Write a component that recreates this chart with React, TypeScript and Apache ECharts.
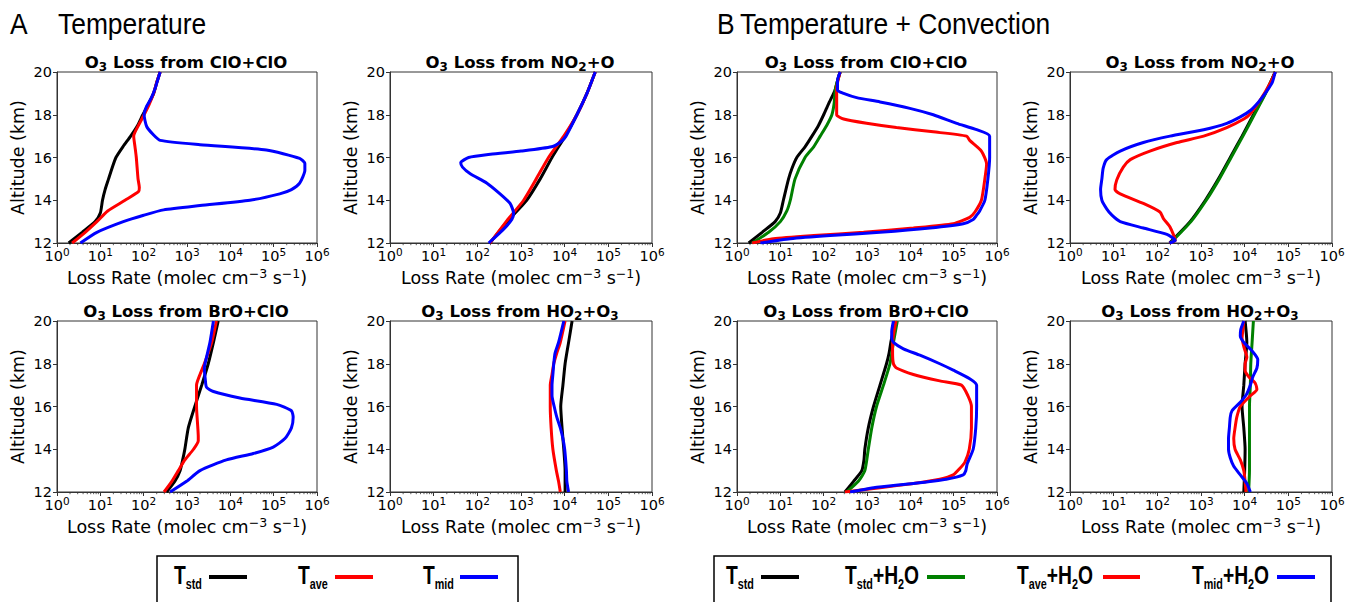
import React, { useEffect, useRef } from "react";
import * as echarts from "echarts";

// ---------- axis values ----------
const ALT_MIN = 12;
const ALT_MAX = 20;
const ALT_STEP = 2;
const RATE_MIN = 1;
const RATE_MAX = 1e6;
const DECADES = [0, 1, 2, 3, 4, 5];
const MINOR_MULTS = [2, 3, 4, 5, 6, 7, 8, 9];

// ---------- data: [log10(loss rate), altitude km] ----------
// A: Temperature — ClO+ClO
const cloA_std = [[0.27,12],[0.58,12.5],[0.88,13],[1.0,13.4],[1.05,14],[1.11,14.5],[1.19,15],[1.27,15.5],[1.36,16],[1.52,16.5],[1.70,17],[1.86,17.5],[1.98,18],[2.11,18.5],[2.23,19],[2.30,19.5],[2.38,20]];
const cloA_ave = [[0.35,12],[0.65,12.5],[0.92,13],[1.17,13.5],[1.57,14],[1.88,14.4],[1.90,14.6],[1.87,15],[1.83,16],[1.80,16.5],[1.77,17],[1.88,17.5],[2.01,18],[2.13,18.5],[2.23,19],[2.30,19.5],[2.38,20]];
const cloA_mid = [[0.54,12],[0.92,12.5],[1.53,13],[2.0,13.3],[2.46,13.55],[3.3,13.75],[4.45,14.0],[5.14,14.3],[5.41,14.5],[5.6,14.8],[5.72,15.4],[5.72,15.72],[5.6,15.96],[4.83,16.35],[3.3,16.6],[2.38,16.8],[2.23,17.05],[2.07,17.45],[2.01,18.0],[2.07,18.4],[2.18,18.8],[2.26,19.2],[2.32,19.6],[2.38,20]];
// A: Temperature — NO2+O
const no2A_std = [[2.29,12],[2.68,13],[3.13,14],[3.44,15],[3.71,16],[4.01,17],[4.28,18],[4.51,19],[4.70,20]];
const no2A_ave = [[2.29,12],[2.66,13],[3.06,14],[3.35,15],[3.63,16],[3.98,17],[4.28,18],[4.51,19],[4.70,20]];
const no2A_mid = [[2.26,12],[2.58,12.6],[2.79,13.1],[2.83,13.4],[2.75,13.85],[2.52,14.3],[2.22,14.8],[1.83,15.25],[1.66,15.55],[1.62,15.75],[1.80,16.0],[2.30,16.15],[3.0,16.3],[3.70,16.5],[3.92,16.75],[4.03,17.0],[4.28,18],[4.51,19],[4.70,20]];
// A: Temperature — BrO+ClO
const broA_std = [[2.53,12],[2.72,12.5],[2.84,13],[2.90,13.5],[2.95,14],[3.03,15],[3.18,16],[3.34,17],[3.49,18],[3.61,19],[3.72,20]];
const broA_ave = [[2.47,12],[2.65,12.5],[2.80,13],[2.95,13.5],[3.15,14],[3.26,14.4],[3.26,14.6],[3.25,15],[3.22,16],[3.22,17],[3.30,17.5],[3.40,18],[3.57,19],[3.68,20]];
const broA_mid = [[2.61,12],[2.99,12.5],[3.30,13],[3.91,13.5],[4.53,13.8],[4.99,14.1],[5.26,14.5],[5.41,15],[5.45,15.5],[5.41,15.8],[5.07,16.1],[4.22,16.4],[3.61,16.7],[3.45,16.9],[3.42,17.3],[3.40,17.8],[3.45,18.3],[3.53,19],[3.61,20]];
// A: Temperature — HO2+O3
const ho2A_std = [[4.01,12],[4.01,13],[3.98,14],[3.94,15],[3.91,16],[3.96,17],[4.01,18],[4.09,19],[4.17,20]];
const ho2A_ave = [[3.90,12],[3.86,12.5],[3.81,13],[3.73,14],[3.69,15],[3.67,16],[3.67,17],[3.71,17.5],[3.75,18],[3.82,18.5],[3.90,19],[4.01,20]];
const ho2A_mid = [[4.09,12],[4.05,12.5],[4.04,13],[4.00,14],[3.96,14.5],[3.90,15],[3.82,15.5],[3.76,16],[3.71,16.5],[3.71,17],[3.73,17.5],[3.75,18],[3.78,18.5],[3.86,19],[3.98,20]];

// B: Temperature + Convection — ClO+ClO
const cloB_std = [[0.27,12],[0.58,12.5],[0.88,13],[1.0,13.4],[1.07,14],[1.19,15],[1.27,15.5],[1.38,16],[1.57,16.5],[1.73,17],[1.88,17.5],[2.0,18],[2.11,18.5],[2.23,19],[2.27,19.2],[2.32,19.6],[2.38,20]];
const cloB_stdH2O = [[0.35,12],[0.73,12.5],[1.0,13],[1.15,13.5],[1.23,14],[1.34,15],[1.57,16],[1.77,16.5],[1.92,17],[2.07,17.5],[2.19,18],[2.24,18.5],[2.26,19],[2.27,19.2],[2.32,19.6],[2.38,20]];
const cloB_aveH2O = [[0.35,12],[0.84,12.2],[1.77,12.35],[2.92,12.5],[4.07,12.7],[4.99,12.9],[5.37,13.2],[5.49,13.45],[5.64,14],[5.72,15],[5.76,15.7],[5.64,16.3],[5.37,16.8],[5.30,17.0],[4.53,17.2],[3.68,17.4],[2.99,17.6],[2.46,17.8],[2.30,18.0],[2.30,19.2],[2.33,19.6],[2.38,20]];
const cloB_midH2O = [[0.54,12],[1.23,12.2],[2.15,12.35],[3.30,12.5],[4.45,12.7],[5.22,12.9],[5.45,13.1],[5.53,13.3],[5.60,13.5],[5.72,14],[5.79,15],[5.83,16],[5.83,17],[5.53,17.3],[5.07,17.6],[4.53,18.0],[3.99,18.3],[3.30,18.6],[2.76,18.8],[2.46,19.0],[2.32,19.15],[2.32,19.6],[2.38,20]];
// B — NO2+O
const no2B_std = [[2.28,12],[2.75,13],[3.10,14],[3.40,15],[3.67,16],[3.94,17],[4.20,18],[4.47,19],[4.70,20]];
const no2B_stdH2O = [[2.30,12],[2.77,13],[3.12,14],[3.42,15],[3.69,16],[3.96,17],[4.22,18],[4.48,19],[4.70,20]];
const no2B_aveH2O = [[2.28,12],[2.41,12.12],[2.29,12.75],[2.14,13.14],[2.06,13.45],[1.68,13.85],[1.15,14.3],[1.03,14.5],[1.07,14.95],[1.22,15.55],[1.38,15.9],[1.83,16.3],[2.45,16.7],[3.06,17.0],[3.59,17.4],[3.98,17.8],[4.13,18.05],[4.36,18.7],[4.59,19.5],[4.70,20]];
const no2B_midH2O = [[2.28,12],[2.41,12.12],[2.22,12.4],[1.68,12.7],[1.15,13.0],[0.96,13.3],[0.84,13.6],[0.73,14],[0.70,14.5],[0.73,15],[0.76,15.5],[0.84,15.9],[1.15,16.3],[1.68,16.7],[2.29,17.0],[3.06,17.3],[3.59,17.6],[3.90,17.9],[4.13,18.2],[4.32,18.6],[4.47,19.0],[4.63,19.5],[4.70,20]];
// B — BrO+ClO
const broB_std = [[2.49,12],[2.69,12.5],[2.88,13],[2.93,13.5],[2.95,14],[3.03,15],[3.15,16],[3.30,17],[3.45,18],[3.51,18.5],[3.55,19],[3.57,19.2],[3.65,20]];
const broB_stdH2O = [[2.53,12],[2.80,12.5],[2.95,13],[3.03,14],[3.11,15],[3.22,16],[3.38,17],[3.53,18],[3.61,19],[3.70,20]];
const broB_aveH2O = [[2.49,12],[3.30,12.2],[4.07,12.4],[4.68,12.6],[4.99,12.8],[5.14,13.1],[5.26,13.4],[5.36,14],[5.41,15],[5.41,16],[5.33,16.5],[5.18,17.0],[4.68,17.2],[4.07,17.5],[3.68,17.8],[3.61,18.0],[3.59,18.5],[3.59,19.0],[3.67,20]];
const broB_midH2O = [[2.61,12],[3.15,12.2],[4.07,12.4],[4.83,12.6],[5.22,12.8],[5.28,13.0],[5.31,13.3],[5.45,14],[5.51,15],[5.53,16],[5.53,17],[5.37,17.3],[4.99,17.7],[4.68,18.0],[4.22,18.4],[3.84,18.7],[3.61,19.0],[3.57,19.2],[3.57,19.5],[3.61,20]];
// B — HO2+O3
const ho2B_std = [[3.98,12],[4.00,13],[4.01,14],[3.98,15],[3.94,16],[3.98,17],[4.01,18],[4.05,19],[4.01,20]];
const ho2B_stdH2O = [[4.09,12],[4.11,13],[4.11,14],[4.11,15],[4.11,16],[4.13,17],[4.14,18],[4.17,19],[4.20,20]];
const ho2B_aveH2O = [[4.03,12],[4.01,12.5],[3.98,13],[3.90,13.5],[3.78,14],[3.75,14.5],[3.78,15],[3.82,15.5],[3.90,16],[4.13,16.5],[4.28,16.8],[4.24,17.1],[4.09,17.4],[4.01,17.7],[4.01,18.0],[4.05,18.3],[3.98,18.8],[3.94,19.2],[3.96,19.6],[3.98,20]];
const ho2B_midH2O = [[4.13,12],[4.05,12.4],[3.90,12.8],[3.75,13.2],[3.67,13.6],[3.63,14],[3.63,14.5],[3.65,15],[3.67,15.5],[3.71,15.8],[3.90,16.2],[4.05,16.6],[4.13,17.0],[4.19,17.4],[4.28,17.8],[4.30,18.2],[4.17,18.6],[3.98,19.0],[3.90,19.3],[3.91,19.6],[3.98,20]];

// ---------- labels ----------
const TITLE_CLO = "{b|O}{s|3}{b| Loss from ClO+ClO}";
const TITLE_NO2 = "{b|O}{s|3}{b| Loss from NO}{s|2}{b|+O}";
const TITLE_BRO = "{b|O}{s|3}{b| Loss from BrO+ClO}";
const TITLE_HO2 = "{b|O}{s|3}{b| Loss from HO}{s|2}{b|+O}{s|3}";
const X_NAME = "{n|Loss Rate (molec cm}{s|−3}{n| s}{s|−1}{n|)}";
const Y_NAME = "Altitude (km)";

const C_STD = "#000000";
const C_STDH2O = "#008000";
const C_AVE = "#ff0000";
const C_MID = "#0000ff";

type Curve = { name: string; color: string; pts: number[][] };

const PANELS: { title: string; col: number; row: number; curves: Curve[] }[] = [
  { title: TITLE_CLO, col: 0, row: 0, curves: [
    { name: "Tstd", color: C_STD, pts: cloA_std },
    { name: "Tave", color: C_AVE, pts: cloA_ave },
    { name: "Tmid", color: C_MID, pts: cloA_mid } ] },
  { title: TITLE_NO2, col: 1, row: 0, curves: [
    { name: "Tstd", color: C_STD, pts: no2A_std },
    { name: "Tave", color: C_AVE, pts: no2A_ave },
    { name: "Tmid", color: C_MID, pts: no2A_mid } ] },
  { title: TITLE_CLO, col: 2, row: 0, curves: [
    { name: "Tstd", color: C_STD, pts: cloB_std },
    { name: "Tstd+H2O", color: C_STDH2O, pts: cloB_stdH2O },
    { name: "Tave+H2O", color: C_AVE, pts: cloB_aveH2O },
    { name: "Tmid+H2O", color: C_MID, pts: cloB_midH2O } ] },
  { title: TITLE_NO2, col: 3, row: 0, curves: [
    { name: "Tstd", color: C_STD, pts: no2B_std },
    { name: "Tstd+H2O", color: C_STDH2O, pts: no2B_stdH2O },
    { name: "Tave+H2O", color: C_AVE, pts: no2B_aveH2O },
    { name: "Tmid+H2O", color: C_MID, pts: no2B_midH2O } ] },
  { title: TITLE_BRO, col: 0, row: 1, curves: [
    { name: "Tstd", color: C_STD, pts: broA_std },
    { name: "Tave", color: C_AVE, pts: broA_ave },
    { name: "Tmid", color: C_MID, pts: broA_mid } ] },
  { title: TITLE_HO2, col: 1, row: 1, curves: [
    { name: "Tstd", color: C_STD, pts: ho2A_std },
    { name: "Tave", color: C_AVE, pts: ho2A_ave },
    { name: "Tmid", color: C_MID, pts: ho2A_mid } ] },
  { title: TITLE_BRO, col: 2, row: 1, curves: [
    { name: "Tstd", color: C_STD, pts: broB_std },
    { name: "Tstd+H2O", color: C_STDH2O, pts: broB_stdH2O },
    { name: "Tave+H2O", color: C_AVE, pts: broB_aveH2O },
    { name: "Tmid+H2O", color: C_MID, pts: broB_midH2O } ] },
  { title: TITLE_HO2, col: 3, row: 1, curves: [
    { name: "Tstd", color: C_STD, pts: ho2B_std },
    { name: "Tstd+H2O", color: C_STDH2O, pts: ho2B_stdH2O },
    { name: "Tave+H2O", color: C_AVE, pts: ho2B_aveH2O },
    { name: "Tmid+H2O", color: C_MID, pts: ho2B_midH2O } ] },
];

// ---------- layout ----------
const GRID_LEFT = [57, 390, 737, 1070];
const GRID_WIDTH = [260, 262, 260, 262];
const GRID_TOP = [72, 321];
const GRID_HEIGHT = 171;
const TITLE_TOP = [49, 298];
const TITLE_SHIFT = -6;

const FONT = "DejaVu Sans";
const NARROW = "'Liberation Sans Narrow', 'Liberation Sans', Arial, sans-serif";
const SPINE = "#333333";

function buildOption() {
  const minorTicks: number[][] = [];
  DECADES.forEach((d) => MINOR_MULTS.forEach((m) => minorTicks.push([m * Math.pow(10, d), ALT_MIN])));

  const grid: any[] = [];
  const xAxis: any[] = [];
  const yAxis: any[] = [];
  const series: any[] = [];
  const title: any[] = [];

  PANELS.forEach((p, i) => {
    const left = GRID_LEFT[p.col];
    const width = GRID_WIDTH[p.col];
    const top = GRID_TOP[p.row];
    grid.push({ left, top, width, height: GRID_HEIGHT, show: true, borderColor: SPINE, borderWidth: 1, backgroundColor: "transparent" });
    xAxis.push({
      type: "log", logBase: 10, gridIndex: i, min: RATE_MIN, max: RATE_MAX, splitNumber: 6,
      axisLine: { show: true, lineStyle: { color: SPINE, width: 1 } },
      axisTick: { show: true, inside: false, length: 4, lineStyle: { color: SPINE } },
      splitLine: { show: false },
      axisLabel: {
        margin: 3, color: "#000",
        formatter: (v: number) => `{b|10}{s|${Math.round(Math.log10(v))}}`,
        rich: {
          b: { fontSize: 14.5, fontFamily: FONT, lineHeight: 15, padding: [5, 0, 0, 0], color: "#000" },
          s: { fontSize: 10.5, fontFamily: FONT, lineHeight: 10, verticalAlign: "top", color: "#000" },
        },
      },
      name: X_NAME, nameLocation: "middle", nameGap: 21,
      nameTextStyle: {
        rich: {
          n: { fontSize: 17.5, fontFamily: FONT, lineHeight: 18, padding: [5, 0, 0, 0], color: "#000" },
          s: { fontSize: 12.5, fontFamily: FONT, lineHeight: 12, verticalAlign: "top", color: "#000" },
        },
      },
    });
    yAxis.push({
      type: "value", gridIndex: i, min: ALT_MIN, max: ALT_MAX, interval: ALT_STEP,
      axisLine: { show: true, lineStyle: { color: SPINE, width: 1 } },
      axisTick: { show: true, inside: false, length: 4, lineStyle: { color: SPINE } },
      splitLine: { show: false },
      axisLabel: { margin: 5, fontSize: 14.5, fontFamily: FONT, color: "#000" },
      name: Y_NAME, nameLocation: "middle", nameGap: 30, nameRotate: 90,
      nameTextStyle: { fontSize: 17.5, fontFamily: FONT, color: "#000" },
    });
    title.push({
      text: p.title, left: left + width / 2 + TITLE_SHIFT, top: TITLE_TOP[p.row], textAlign: "center",
      textStyle: {
        rich: {
          b: { fontSize: 16.5, fontWeight: "bold", fontFamily: FONT, lineHeight: 17, verticalAlign: "top", color: "#000" },
          s: { fontSize: 12, fontFamily: FONT, lineHeight: 12, padding: [9, 0, 0, 0], color: "#000" },
        },
      },
    });
    series.push({
      type: "custom", xAxisIndex: i, yAxisIndex: i, silent: true, clip: false, z: 1,
      data: minorTicks,
      encode: { x: 0, y: 1 },
      renderItem: (params: any, api: any) => {
        const c = api.coord([api.value(0), api.value(1)]);
        return { type: "line", shape: { x1: c[0], y1: c[1], x2: c[0], y2: c[1] + 2.2 }, style: { stroke: SPINE, lineWidth: 0.8 } };
      },
    });
    p.curves.forEach((c) => {
      series.push({
        type: "line", name: c.name, xAxisIndex: i, yAxisIndex: i,
        data: c.pts.map(([e, a]) => [Math.pow(10, e), a]),
        showSymbol: false, symbol: "none", smooth: 0.2, z: 3,
        lineStyle: { color: c.color, width: 3 },
        itemStyle: { color: c.color },
      });
    });
  });

  const LEG_SCALE = 0.77;
  const legendText = (x: number, text: string) => ({
    type: "text", x, y: 563, scaleX: LEG_SCALE,
    style: {
      text, verticalAlign: "top",
      rich: {
        t: { fontSize: 25, fontWeight: "bold", fontFamily: NARROW, lineHeight: 25, verticalAlign: "top", fill: "#000", color: "#000" },
        s: { fontSize: 14, fontWeight: "bold", fontFamily: NARROW, lineHeight: 14, padding: [18, 0, 0, 0], fill: "#000", color: "#000" },
      },
    },
  });
  const legendLine = (x1: number, x2: number, color: string) => ({
    type: "line", shape: { x1, y1: 577, x2, y2: 577 }, style: { stroke: color, lineWidth: 4 },
  });
  const header = (x: number, text: string) => ({
    type: "text", x, y: 23, scaleX: 0.88,
    style: { text, fontSize: 30, fontFamily: NARROW, fill: "#000", verticalAlign: "middle" },
  });

  const graphic: any[] = [
    header(10, "A"),
    header(58, "Temperature"),
    header(717, "B"),
    header(740, "Temperature + Convection"),
    { type: "rect", shape: { x: 157, y: 556, width: 361, height: 60 }, style: { fill: "#fff", stroke: "#000", lineWidth: 1.5 } },
    legendText(174, "{t|T}{s|std}"), legendLine(209, 247, C_STD),
    legendText(298, "{t|T}{s|ave}"), legendLine(335, 373, C_AVE),
    legendText(423, "{t|T}{s|mid}"), legendLine(460, 498, C_MID),
    { type: "rect", shape: { x: 714, y: 556, width: 617, height: 60 }, style: { fill: "#fff", stroke: "#000", lineWidth: 1.5 } },
    legendText(726, "{t|T}{s|std}"), legendLine(761, 799, C_STD),
    legendText(845, "{t|T}{s|std}{t|+H}{s|2}{t|O}"), legendLine(927, 965, C_STDH2O),
    legendText(1017, "{t|T}{s|ave}{t|+H}{s|2}{t|O}"), legendLine(1103, 1140, C_AVE),
    legendText(1192, "{t|T}{s|mid}{t|+H}{s|2}{t|O}"), legendLine(1277, 1315, C_MID),
  ];

  return { animation: false, backgroundColor: "#ffffff", title, grid, xAxis, yAxis, series, graphic };
}

export default function App() {
  const ref = useRef<HTMLDivElement>(null);
  useEffect(() => {
    if (!ref.current) return;
    const chart = echarts.init(ref.current, undefined, { renderer: "svg" });
    chart.setOption(buildOption());
    return () => chart.dispose();
  }, []);
  return <div ref={ref} style={{ position: "absolute", left: 0, top: 0, width: 1356, height: 602 }} />;
}
